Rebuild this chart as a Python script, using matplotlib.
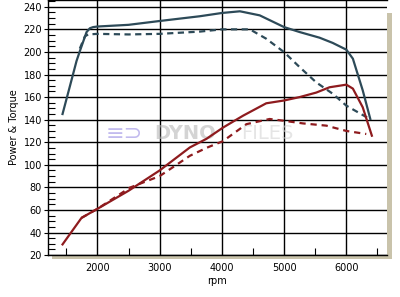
import matplotlib
matplotlib.use("Agg")
import matplotlib.pyplot as plt
from matplotlib.patches import Rectangle
from matplotlib.ticker import MultipleLocator

# power (solid) / power baseline (dashed), torque (solid) / torque baseline (dashed)
pw_rpm = [1440, 1560, 1665, 1720, 1826, 1880, 1932, 2000, 2500, 3000, 3645, 4000, 4290, 4608,
          5000, 5250, 5570, 5780, 6000, 6105, 6263, 6385]
pw_val = [145, 170, 192, 201, 217.6, 221, 222, 222.5, 224, 227.4, 231.6, 234.5, 236, 232.4,
          222, 217.6, 212.6, 208, 202, 194, 166, 140.6]

pw2_rpm = [1718, 1799, 1852, 2000, 2500, 3000, 3645, 4000, 4450, 4713, 5000, 5250, 5517,
           5785, 6000, 6375]
pw2_val = [203, 213.8, 215.5, 216, 215.5, 216, 218, 220, 220, 211.7, 199.8, 186.5, 173,
           162.8, 152.4, 140.6]

tq_rpm = [1440, 1745, 2000, 2500, 3000, 3486, 3752, 4019, 4340, 4713, 5000, 5250, 5517,
          5730, 6000, 6105, 6263, 6410]
tq_val = [29.5, 53, 61, 77, 95, 115.4, 123, 133, 143.5, 154.5, 157, 160, 164, 168.7, 171,
          167.5, 151, 125.8]

tq2_rpm = [1745, 2000, 2523, 3000, 3163, 3486, 3752, 4019, 4394, 4768, 5000, 5300, 5678,
           6000, 6320]
tq2_val = [53, 61, 79.8, 90, 96, 108, 115, 121, 136, 140.6, 139, 136.7, 134.7, 130, 127.3]

teal = "#2d4a58"
red = "#8e1b1e"

fig = plt.figure(figsize=(4, 2.97), dpi=100)
fig.patch.set_facecolor("white")

left, bottom, width, height = 0.119, 0.141, 0.848, 0.859
# drop shadow behind the plot area
shadow = fig.add_axes([left + 0.012, bottom - 0.014, width, height - 0.03])
shadow.set_axis_off()
shadow.add_patch(Rectangle((0, 0), 1, 1, transform=shadow.transAxes,
                           facecolor="#c9c3ab", edgecolor="none"))
shadow.set_zorder(0)

ax = fig.add_axes([left, bottom, width, height])
ax.set_zorder(1)
ax.set_facecolor("white")

ax.plot(pw_rpm, pw_val, '-', color=teal, lw=1.6, zorder=3)
ax.plot(pw2_rpm, pw2_val, '--', color=teal, lw=1.6, dashes=(2.8, 2.0), zorder=3)
ax.plot(tq_rpm, tq_val, '-', color=red, lw=1.6, zorder=3)
ax.plot(tq2_rpm, tq2_val, '--', color=red, lw=1.6, dashes=(2.8, 2.2), zorder=3)

ax.set_xlim(1200, 6650)
ax.set_ylim(20, 246)
ax.xaxis.set_major_locator(MultipleLocator(1000))
ax.xaxis.set_minor_locator(MultipleLocator(500))
ax.yaxis.set_major_locator(MultipleLocator(20))
ax.yaxis.set_minor_locator(MultipleLocator(5))
ax.grid(True, which="major", color="black", lw=1.0, zorder=1)
ax.set_axisbelow(True)

ax.tick_params(axis="y", which="major", direction="out", length=3, width=0.8, labelsize=7, pad=1)
ax.tick_params(axis="y", which="minor", direction="in", length=5, width=0.8)
ax.tick_params(axis="x", which="major", direction="in", length=0, labelsize=7, pad=6)
ax.tick_params(axis="x", which="minor", direction="in", length=5, width=0.8)

ax.spines["right"].set_visible(False)
for s in ["left", "bottom", "top"]:
    ax.spines[s].set_linewidth(1.0)

ax.set_xlabel("rpm", fontsize=7, labelpad=2)
ax.set_ylabel("Power & Torque", fontsize=7, labelpad=3)

# watermark
ax.text(0.17, 0.475, "\u2261\u2283", transform=ax.transAxes, fontsize=16,
        color="#a99ee8", alpha=0.7, ha="left", va="center", zorder=2)
ax.text(0.315, 0.475, "DYNO", transform=ax.transAxes, fontsize=14, color="#b8b8b8",
        alpha=0.6, ha="left", va="center", fontweight="bold", zorder=2)
ax.text(0.57, 0.475, "FILES", transform=ax.transAxes, fontsize=14, color="#d4d4d4",
        alpha=0.6, ha="left", va="center", zorder=2)

fig.savefig("out.png", dpi=100)
